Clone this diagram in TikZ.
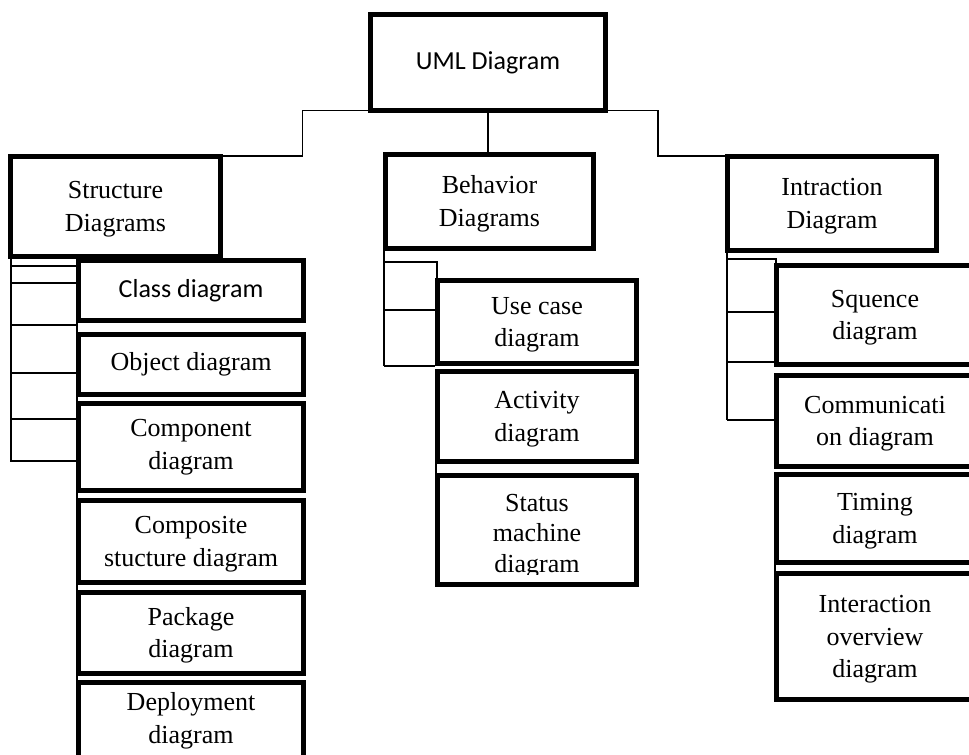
\documentclass[tikz,border=0pt]{standalone}
\usepackage{fontspec}
\setmainfont{Liberation Serif}
\newfontfamily\calfont{Carlito}
\newcommand\ubox[7]{\node[#2, minimum width={(#5-(#3)-4.6)*0.75pt}, minimum height={(#6-(#4)-4.6)*0.75pt}] (#1) at ({(#3+#5)/2},{(#4+#6)/2}) {#7};}
\begin{document}
\begin{tikzpicture}[x=0.75pt,y=-0.75pt,
  box/.style={draw, line width=3.5pt, inner sep=0pt, outer sep=0pt, align=center,
    font=\fontsize{19.5}{24.4}\selectfont},
  cbox/.style={box, font=\calfont\fontsize{19.5}{24.4}\selectfont},
  txt/.style={inner sep=0pt, align=center, font=\fontsize{19.5}{22.9}\selectfont},
  link/.style={line width=1.2pt}]
\useasboundingbox (0,0) rectangle (969,755);
\clip (0,0) rectangle (969,755);

% top level
\ubox{uml}{cbox}{368}{12}{608}{113}{UML Diagram}
\ubox{struct}{box}{8}{154}{223}{259}{\strut Structure\\Diagrams}
\ubox{beh}{box}{383}{152}{596}{251}{\strut Behavior\\Diagrams}
\ubox{intr}{box}{725}{154}{939}{253}{\strut Intraction\\Diagram}

% structure children
\ubox{cls}{cbox}{76}{258}{306}{323}{Class diagram}
\ubox{obj}{box}{76}{332}{306}{397}{Object diagram}
\ubox{comp}{box}{76}{401}{306}{493}{Component\\diagram}
\ubox{csd}{box}{76}{498}{306}{585}{\strut Composite\\stucture diagram}
\ubox{pkg}{box}{76}{590}{306}{676}{\strut Package\\diagram}
\ubox{dep}{box}{76}{680}{306}{762}{Deployment\\diagram}

% behavior children
\ubox{uc}{box}{435}{278}{639}{366}{\strut Use case\\diagram}
\ubox{act}{box}{435}{369}{639}{464}{\strut Activity\\diagram}
\ubox{stm}{box}{435}{473}{639}{587}{}
\begin{scope}
  \clip (437,475) rectangle (637,574);
  \node[txt] (stmtext) at (stm.center |- 0,536) {Status\\machine\\diagram};
\end{scope}

% interaction children
\ubox{seq}{box}{774}{263}{976}{367}{\strut Squence\\diagram}
\ubox{com}{box}{774}{373}{976}{469}{\strut Communicati\\on diagram}
\ubox{tim}{box}{774}{472}{976}{565}{\strut Timing\\diagram}
\ubox{iod}{box}{774}{571}{976}{702}{\strut Interaction\\overview\\diagram}

% top connectors
\draw[link] (uml.south west) -- ++(-68,0) |- (struct.north east);
\draw[link] (uml.south) -- (uml.south |- beh.north);
\draw[link] (uml.south east) -- ++(52,0) |- (intr.north west);

% structure branch
\draw[link] (11,257) -- (11,462);
\foreach \y in {266,283,325,373,419,461} \draw[link] (11,\y) -- (76,\y);
\draw[link] (77,323) -- (77,332);
\draw[link] (77,397) -- (77,401);
\draw[link] (77,493) -- (77,498);
\draw[link] (77,585) -- (77,590);
\draw[link] (77,676) -- (77,680);

% behavior branch
\draw[link] (384,249) -- (384,366);
\draw[link] (384,262) -- (437,262) -- (uc.north -| 437,0);
\draw[link] (384,310) -- (435,310);
\draw[link] (384,366) -- (435,366);
\draw[link] (436,464) -- (436,473);

% interaction branch
\draw[link] (727,251) -- (727,420);
\draw[link] (727,259) -- (776,259) -- (776,263);
\foreach \y in {312,362,420} \draw[link] (727,\y) -- (774,\y);
\draw[link] (775,565) -- (775,571);
\end{tikzpicture}
\end{document}
